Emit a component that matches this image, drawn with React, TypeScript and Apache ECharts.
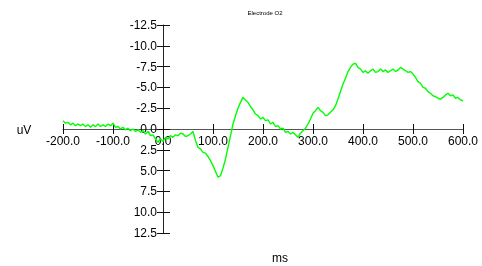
import React, { useEffect, useRef } from "react";
import * as echarts from "echarts";

const title = "Electrode O2";
const yUnit = "uV";
const xUnit = "ms";
const tStart = -200;
const tStep = 5;
// amplitude (uV) every 5 ms from -200 to 600 ms
const amplitude = [
  -1.0, -0.7, -0.8, -0.5, -0.7, -0.4, -0.6, -0.4, -0.6, -0.3,
  -0.5, -0.2, -0.5, -0.3, -0.6, -0.3, -0.5, -0.3, -0.6, -0.4,
  -0.7, -0.2, -0.3, 0.0, -0.2, 0.1, -0.1, 0.2, 0.0, 0.3,
  0.1, 0.4, 0.2, 0.6, 0.3, 0.8, 0.7, 1.2, 1.6, 1.2,
  1.5, 1.0, 1.2, 0.8, 1.0, 0.7, 0.8, 0.5, 0.6, 0.9,
  0.8, 0.6, 0.3, 1.4, 2.2, 2.4, 2.8, 2.9, 3.3, 3.8,
  4.4, 5.1, 5.8, 5.6, 4.7, 3.6, 2.2, 0.8, -0.6, -1.6,
  -2.5, -3.2, -3.8, -3.5, -3.2, -2.7, -2.3, -1.8, -1.6, -1.2,
  -1.4, -1.0, -1.1, -0.6, -0.8, -0.3, -0.4, 0.0, -0.1, 0.4,
  0.3, 0.6, 0.4, 0.7, 1.0, 0.5, 0.2, -0.1, -0.6, -1.2,
  -1.9, -2.2, -2.6, -2.2, -2.0, -1.6, -1.7, -2.0, -2.3, -2.8,
  -3.6, -4.5, -5.4, -6.1, -6.9, -7.4, -7.8, -7.9, -7.4, -7.2,
  -6.8, -7.0, -6.7, -7.0, -7.2, -6.8, -6.9, -7.2, -6.9, -7.1,
  -6.8, -7.0, -7.2, -6.9, -7.1, -7.4, -7.2, -7.0, -6.8, -6.9,
  -6.6, -6.2, -5.7, -5.5, -5.0, -4.9, -4.5, -4.3, -4.0, -3.9,
  -3.7, -3.6, -3.8, -4.1, -4.3, -4.0, -4.1, -3.7, -3.8, -3.5,
  -3.4,
];

export default function App() {
  const ref = useRef<HTMLDivElement>(null);
  useEffect(() => {
    if (!ref.current) return;
    const chart = echarts.init(ref.current, null, { renderer: "svg" });
    const data = amplitude.map((v, i) => [tStart + i * tStep, v]);
    const font = "Arial, 'Liberation Sans', sans-serif";
    // grid: x from 63 to 463, y from 25 to 233; zero lines at x=163, y=129
    const baseX = {
      type: "value",
      min: -200,
      max: 600,
      interval: 100,
      position: "bottom",
      offset: -104,
      splitLine: { show: false },
    };
    const baseY = {
      type: "value",
      min: -12.5,
      max: 12.5,
      interval: 2.5,
      inverse: true,
      position: "left",
      offset: -100,
      splitLine: { show: false },
    };
    chart.setOption({
      animation: false,
      grid: { left: 63, right: 19, top: 25, bottom: 33 },
      xAxis: [
        {
          ...baseX,
          axisLine: { onZero: false, lineStyle: { color: "#555", width: 1 } },
          axisTick: { show: true, inside: false, length: 5, lineStyle: { color: "#111" } },
          axisLabel: {
            margin: 6,
            color: "#000",
            fontSize: 12,
            fontFamily: font,
            formatter: (v: number) => v.toFixed(1),
          },
        },
        {
          ...baseX,
          axisLine: { onZero: false, show: false },
          axisTick: { show: true, inside: true, length: 5, lineStyle: { color: "#111" } },
          axisLabel: { show: false },
        },
      ],
      yAxis: [
        {
          ...baseY,
          axisLine: { onZero: false, lineStyle: { color: "#222", width: 1 } },
          axisTick: { show: true, inside: false, length: 6, lineStyle: { color: "#111" } },
          axisLabel: {
            margin: 6,
            color: "#000",
            fontSize: 12,
            fontFamily: font,
            formatter: (v: number) => v.toFixed(1),
          },
        },
        {
          ...baseY,
          axisLine: { onZero: false, show: false },
          axisTick: { show: true, inside: true, length: 7, lineStyle: { color: "#111" } },
          axisLabel: { show: false },
        },
      ],
      series: [
        {
          type: "line",
          data,
          showSymbol: false,
          lineStyle: { color: "#00ff00", width: 1.4 },
          itemStyle: { color: "#00ff00" },
          z: 5,
        },
      ],
      graphic: [
        {
          type: "text",
          x: 265,
          y: 13,
          style: {
            text: title,
            fontSize: 6,
            fontFamily: font,
            fill: "#000",
            textAlign: "center",
            textVerticalAlign: "middle",
          },
        },
        {
          type: "text",
          x: 24,
          y: 130,
          style: {
            text: yUnit,
            fontSize: 12,
            fontFamily: font,
            fill: "#000",
            textAlign: "center",
            textVerticalAlign: "middle",
          },
        },
        {
          type: "text",
          x: 280,
          y: 258,
          style: {
            text: xUnit,
            fontSize: 12,
            fontFamily: font,
            fill: "#000",
            textAlign: "center",
            textVerticalAlign: "middle",
          },
        },
      ],
    });
    return () => chart.dispose();
  }, []);
  return (
    <div
      ref={ref}
      style={{ position: "fixed", left: 0, top: 0, width: 482, height: 266 }}
    />
  );
}
